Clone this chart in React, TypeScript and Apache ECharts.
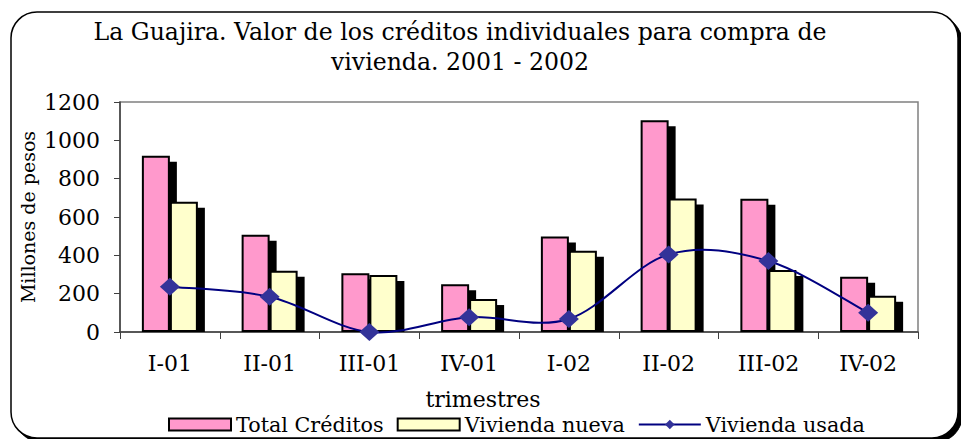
import React, { useEffect, useRef } from "react";
import * as echarts from "echarts";

const categories = ["I-01", "II-01", "III-01", "IV-01", "I-02", "II-02", "III-02", "IV-02"];
const totalCreditos = [920, 508, 306, 249, 498, 1105, 695, 288];
const viviendaNueva = [680, 320, 298, 172, 424, 697, 323, 189];
const viviendaUsada = [236, 184, 0, 77, 68, 405, 370, 100];
const yTicks = { min: 0, max: 1200, interval: 200 };

const FONT = "DejaVu Serif";
const BAR_W = 28;
const SH = 6;

export default function App() {
  const ref = useRef<HTMLDivElement>(null);
  useEffect(() => {
    if (!ref.current) return;
    const chart = echarts.init(ref.current, null, { renderer: "svg" });
    const shadowData = categories.map((_, i) => [i, totalCreditos[i], viviendaNueva[i]]);
    const segData = viviendaUsada.slice(0, -1).map((v, i) => [i, v]);
    const n = viviendaUsada.length;
    chart.setOption({
      animation: false,
      backgroundColor: "#ffffff",
      textStyle: { fontFamily: FONT, color: "#000" },
      graphic: [
        {
          type: "rect",
          z: -10,
          shape: { x: 15, y: 16, width: 947, height: 426, r: 26 },
          style: { fill: "#000", stroke: "#000", lineWidth: 1 },
        },
        {
          type: "rect",
          z: -9,
          shape: { x: 11, y: 12, width: 947, height: 426, r: 26 },
          style: { fill: "#fff", stroke: "#000", lineWidth: 1.5 },
        },
      ],
      title: {
        text: "La Guajira. Valor de los créditos individuales para compra de\nvivienda. 2001 - 2002",
        left: 455,
        top: 12,
        textAlign: "center",
        textStyle: { fontFamily: FONT, fontSize: 23.6, fontWeight: "normal", lineHeight: 30, color: "#000" },
      },
      legend: {
        left: 168,
        top: 414,
        padding: 0,
        itemWidth: 62,
        itemHeight: 12,
        itemGap: 13,
        textStyle: { fontFamily: FONT, fontSize: 20.7, color: "#000" },
        data: [
          { name: "Total Créditos", icon: "rect", itemStyle: { borderColor: "#000", borderWidth: 2 } },
          { name: "Vivienda nueva", icon: "rect", itemStyle: { borderColor: "#000", borderWidth: 2 } },
          { name: "Vivienda usada", lineStyle: { color: "#000080", width: 2, opacity: 1 } },
        ],
      },
      grid: {
        left: 120,
        right: 43,
        top: 102,
        bottom: 107,
        show: true,
        borderColor: "#808080",
        borderWidth: 1.5,
      },
      xAxis: {
        type: "category",
        data: categories,
        boundaryGap: true,
        name: "trimestres",
        nameLocation: "middle",
        nameGap: 56,
        nameMoveOverlap: false,
        nameTextStyle: { fontFamily: FONT, fontSize: 22, color: "#000", padding: [0, 72, 0, 0] },
        axisLine: { lineStyle: { color: "#404040", width: 1.5 } },
        axisTick: { show: true, length: 7, interval: 0, lineStyle: { color: "#404040" } },
        axisLabel: { margin: 20, fontFamily: FONT, fontSize: 22, color: "#000", interval: 0 },
      },
      yAxis: {
        type: "value",
        min: yTicks.min,
        max: yTicks.max,
        interval: yTicks.interval,
        name: "Millones de pesos",
        nameLocation: "middle",
        nameGap: 83,
        nameMoveOverlap: false,
        nameTextStyle: { fontFamily: FONT, fontSize: 19, color: "#000" },
        axisLine: { show: true, lineStyle: { color: "#404040", width: 1.5 } },
        axisTick: { show: true, length: 6, lineStyle: { color: "#404040" } },
        axisLabel: { margin: 20, fontFamily: FONT, fontSize: 22, color: "#000", formatter: (v: number) => String(v) },
        splitLine: { show: false },
      },
      series: [
        {
          name: "sombra",
          type: "custom",
          z: 1,
          silent: true,
          encode: { x: 0, y: [1, 2] },
          data: shadowData,
          renderItem: (params: any, api: any) => {
            const idx = api.value(0);
            const base = api.coord([idx, 0]);
            const p1 = api.coord([idx, api.value(1)]);
            const p2 = api.coord([idx, api.value(2)]);
            const cx = base[0];
            return {
              type: "group",
              children: [
                {
                  type: "rect",
                  shape: { x: cx - BAR_W + SH + 1, y: p1[1] + SH, width: BAR_W, height: Math.max(0, base[1] - p1[1] - SH) },
                  style: { fill: "#000" },
                },
                {
                  type: "rect",
                  shape: { x: cx + SH + 1, y: p2[1] + SH, width: BAR_W, height: Math.max(0, base[1] - p2[1] - SH) },
                  style: { fill: "#000" },
                },
              ],
            };
          },
        },
        {
          name: "Total Créditos",
          type: "bar",
          z: 2,
          barWidth: BAR_W,
          barGap: "0%",
          data: totalCreditos,
          itemStyle: { color: "#FF99CC", borderColor: "#000", borderWidth: 2 },
        },
        {
          name: "Vivienda nueva",
          type: "bar",
          z: 2,
          barWidth: BAR_W,
          barGap: "0%",
          data: viviendaNueva,
          itemStyle: { color: "#FFFFCC", borderColor: "#000", borderWidth: 2 },
        },
        {
          name: "curva",
          type: "custom",
          z: 3,
          silent: true,
          encode: { x: 0, y: 1 },
          data: segData,
          renderItem: (params: any, api: any) => {
            const i = params.dataIndex;
            const pt = (j: number) => {
              const k = Math.max(0, Math.min(n - 1, j));
              return api.coord([k, viviendaUsada[k]]);
            };
            const p0 = pt(i - 1);
            const p1 = pt(i);
            const p2 = pt(i + 1);
            const p3 = pt(i + 2);
            return {
              type: "bezierCurve",
              shape: {
                x1: p1[0],
                y1: p1[1],
                x2: p2[0],
                y2: p2[1],
                cpx1: p1[0] + (p2[0] - p0[0]) / 6,
                cpy1: p1[1] + (p2[1] - p0[1]) / 6,
                cpx2: p2[0] - (p3[0] - p1[0]) / 6,
                cpy2: p2[1] - (p3[1] - p1[1]) / 6,
              },
              style: { stroke: "#000080", lineWidth: 2, fill: "none" },
            };
          },
        },
        {
          name: "Vivienda usada",
          type: "line",
          z: 4,
          data: viviendaUsada,
          symbol: "diamond",
          symbolSize: [20, 18],
          lineStyle: { color: "#000080", width: 2, opacity: 0 },
          itemStyle: { color: "#333399" },
        },
      ],
    });
    return () => chart.dispose();
  }, []);
  return <div ref={ref} style={{ width: 961, height: 439, position: "absolute", left: 0, top: 0 }} />;
}
